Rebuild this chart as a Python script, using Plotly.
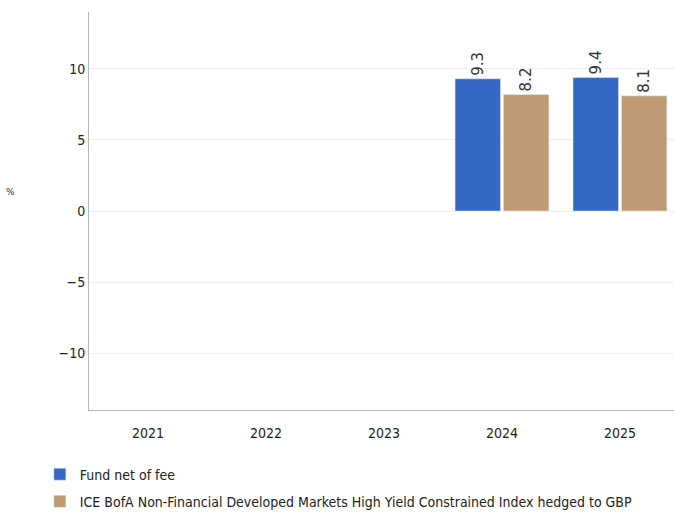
import plotly.graph_objects as go

years = ["2021", "2022", "2023", "2024", "2025"]
fund_net = [None, None, None, 9.3, 9.4]
index_ret = [None, None, None, 8.2, 8.1]

fund_name = "Fund net of fee"
index_name = "ICE BofA Non-Financial Developed Markets High Yield Constrained Index hedged to GBP"

BLUE = "#3468C4"
TAN = "#BE9B75"
FONT = "DejaVu Sans Condensed"


def labels(vals):
    return [None if v is None else f"{v:.1f}" for v in vals]


fig = go.Figure()
for name, vals, color, grp in [
    (fund_name, fund_net, BLUE, "a"),
    (index_name, index_ret, TAN, "b"),
]:
    fig.add_trace(go.Bar(
        x=years, y=vals, name=name, marker_color=color,
        text=labels(vals), textposition="outside", textangle=-90,
        textfont=dict(family="DejaVu Sans", size=15, color="#333333"),
        cliponaxis=False, legendgroup=grp,
    ))

fig.update_layout(
    width=674, height=512,
    margin=dict(l=89, r=0, t=12, b=102, autoexpand=False),
    plot_bgcolor="white", paper_bgcolor="white",
    barmode="group", bargap=0.18, bargroupgap=0.06,
    font=dict(family=FONT, size=14, color="#333333"),
    showlegend=True,
    legend=dict(
        orientation="v", x=-0.084, xanchor="left", y=-0.122, yanchor="top",
        font=dict(family=FONT, size=14, color="#222222"),
        tracegroupgap=6, traceorder="grouped",
    ),
    xaxis=dict(
        type="category", range=[-0.5, 4.458],
        showline=True, linecolor="#b5b5b5", linewidth=1,
        ticks="", showgrid=False, ticklabelstandoff=10,
        tickfont=dict(family=FONT, size=14, color="#222222"),
    ),
    yaxis=dict(
        range=[-14, 14], tickvals=[-10, -5, 0, 5, 10],
        ticktext=["\u221210", "\u22125", "0", "5", "10"],
        showline=True, linecolor="#b5b5b5", linewidth=1,
        showgrid=True, gridcolor="#eef0f3", gridwidth=1,
        zeroline=False, ticks="",
        tickfont=dict(family=FONT, size=14, color="#222222"),
    ),
    annotations=[dict(
        text="%", xref="paper", yref="paper",
        x=-0.135, y=0.548, xanchor="center", yanchor="middle",
        showarrow=False, font=dict(family="DejaVu Sans", size=9, color="#333333"),
    )],
)

fig.write_html("out.html")
